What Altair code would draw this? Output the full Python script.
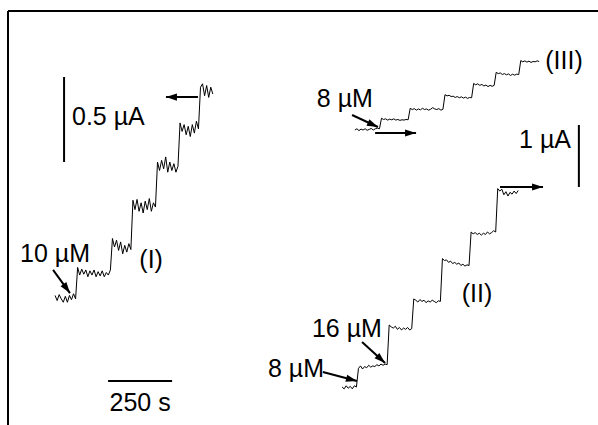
import math

import altair as alt
import pandas as pd

# ---------------------------------------------------------------------------
# Amperometric current-time recordings (successive substrate additions).
# Each trace is sampled every DT seconds; currents are in µA relative to the
# trace's own starting baseline.
# ---------------------------------------------------------------------------
DT = 8  # s between samples

trace_I = [
    # baseline
    0.015, -0.015, 0.020, -0.005, -0.025, 0.010, -0.025, 0.015, -0.010, 0.025, -0.005,
    # + 10 µM
    0.180, 0.135, 0.170, 0.140, 0.165, 0.125, 0.160, 0.135, 0.165, 0.125, 0.155,
    0.130, 0.160, 0.125, 0.150, 0.135, 0.165,
    0.350, 0.300, 0.340, 0.280, 0.330, 0.260, 0.310, 0.270, 0.320, 0.285,
    0.575, 0.520, 0.580, 0.510, 0.560, 0.500, 0.570, 0.520, 0.585, 0.510, 0.560, 0.535,
    0.800, 0.750, 0.810, 0.760, 0.830, 0.740, 0.800, 0.750, 0.790, 0.740, 0.775,
    1.030, 0.980, 1.020, 0.960, 1.010, 0.950, 1.020, 0.970, 1.040, 0.995,
    1.240, 1.260, 1.190, 1.250, 1.180, 1.240, 1.200,
]

trace_II = [
    0.000, -0.030, 0.020, -0.020, 0.010, -0.030, 0.020, 0.000,
    # + 8 µM
    0.300, 0.340, 0.290, 0.330, 0.310, 0.350, 0.320, 0.340, 0.330, 0.360, 0.340,
    0.370, 0.350, 0.370, 0.360,
    # + 16 µM
    1.000, 0.970, 0.950, 0.980, 0.930, 0.960, 0.920, 0.950, 0.930, 0.960, 0.920, 0.940,
    1.420, 1.400, 1.370, 1.410, 1.380, 1.400, 1.360, 1.390, 1.370, 1.400, 1.380,
    1.360, 1.390, 1.380,
    2.070, 2.040, 2.050, 2.010, 2.030, 1.990, 2.010, 1.980, 2.000, 1.960, 1.980,
    1.950, 1.970, 1.960,
    2.500, 2.470, 2.490, 2.460, 2.480, 2.450, 2.480, 2.460, 2.500, 2.470, 2.490,
    2.520, 2.500,
    3.200, 3.160, 3.190, 3.100, 3.150, 3.080, 3.140, 3.110, 3.160, 3.120, 3.170,
]

trace_III = [
    0.000, 0.020, -0.010, 0.015, 0.000, 0.020, -0.005, 0.010, 0.025, 0.000, 0.020,
    0.030, 0.020,
    # + 8 µM
    0.190, 0.170, 0.180, 0.160, 0.175, 0.165, 0.180, 0.160, 0.170, 0.155, 0.165,
    0.160, 0.170, 0.165,
    0.350, 0.330, 0.345, 0.320, 0.340, 0.325, 0.350, 0.330, 0.340, 0.320, 0.335,
    0.360, 0.340, 0.330, 0.345, 0.320, 0.335,
    0.570, 0.550, 0.560, 0.540, 0.545, 0.525, 0.540, 0.520, 0.535, 0.515, 0.530,
    0.510, 0.525, 0.520,
    0.750, 0.730, 0.745, 0.720, 0.735, 0.710, 0.725, 0.700, 0.720, 0.705, 0.720,
    0.930, 0.910, 0.920, 0.895, 0.910, 0.890, 0.905, 0.880, 0.900, 0.885, 0.900, 0.895,
    1.120, 1.100, 1.115, 1.095, 1.110, 1.090, 1.105, 1.100, 1.115, 1.105,
]

# start time (s) and vertical offset (µA) of each recording in the composite
trace_start = {"I": 184, "II": 1305, "III": 1355}
trace_offset = {"I": 0.747, "II": 0.613, "III": 4.758}

# scale bars: (t, i) -> (t2, i2)
bar_time = {"t": 391, "t2": 641, "i": 0.259, "i2": 0.259}          # 250 s
bar_half_ua = {"t": 219, "t2": 219, "i": 2.047, "i2": 1.547}      # 0.5 µA (trace I)
bar_one_ua = {"t": 2230, "t2": 2230, "i": 4.839, "i2": 3.839}     # 1 µA (traces II, III)

# annotation arrows (tail -> head)
arrow_I_tail_t = [742, 176]
arrow_I_tail_i = [1.929, 0.912]
arrow_I_head_t = [617, 242]
arrow_I_head_i = [1.929, 0.776]

arrow_II_tail_t = [1344, 1434, 1922, 1383, 1230]
arrow_II_tail_i = [5.000, 4.710, 3.839, 1.339, 0.855]
arrow_II_head_t = [1445, 1594, 2090, 1473, 1363]
arrow_II_head_i = [4.806, 4.710, 3.839, 1.000, 0.710]

# labels
labels_I = ["10 µM", "(I)", "250 s"]
labels_I_t = [184, 559, 516]
labels_I_i = [0.959, 0.924, 0.082]
label_half_ua = "0.5 µA"
label_half_ua_t = 250
label_half_ua_i = 1.765

labels_II = ["8 µM", "(III)", "1 µA", "(II)", "16 µM", "8 µM"]
labels_II_t = [1316, 2172, 2098, 1832, 1324, 1125]
labels_II_i = [5.129, 5.750, 4.468, 1.984, 1.419, 0.774]

# ---------------------------------------------------------------------------
# Geometry of the panel
# ---------------------------------------------------------------------------
W, H = 590, 414
PX_PER_S = 64 / 250
PX_PER_UA_I = 170
PX_PER_UA_II = 62
X_MAX = W / PX_PER_S
Y_I_MAX = H / PX_PER_UA_I
Y_II_MAX = H / PX_PER_UA_II

FONT = "Liberation Sans"
FONT_SIZE = 25
HEAD = "M0,0L-2,-0.65L-2,0.65Z"

x_scale = alt.Scale(domain=[0, X_MAX], nice=False, zero=False)
y_I_scale = alt.Scale(domain=[0, Y_I_MAX], nice=False, zero=False)
y_II_scale = alt.Scale(domain=[0, Y_II_MAX], nice=False, zero=False)


def X(field):
    return alt.X(field, type="quantitative", scale=x_scale, axis=None)


def Y(field, scale):
    return alt.Y(field, type="quantitative", scale=scale, axis=None)


def trace_frame(name, values):
    t0, off = trace_start[name], trace_offset[name]
    return pd.DataFrame({
        "trace": name,
        "t": [t0 + DT * k for k in range(len(values))],
        "i": [off + v for v in values],
    })


def head_angle(t0, i0, t1, i1, px_per_ua):
    dx = (t1 - t0) * PX_PER_S
    dy = -(i1 - i0) * px_per_ua
    return math.degrees(math.atan2(dy, dx)) % 360


def arrow_frames(tt, ti, ht, hi, px_per_ua):
    shafts = pd.DataFrame({"t": tt, "i": ti, "t2": ht, "i2": hi})
    heads = pd.DataFrame({
        "t": ht,
        "i": hi,
        "angle": [head_angle(a, b, c, d, px_per_ua) for a, b, c, d in zip(tt, ti, ht, hi)],
    })
    return shafts, heads


df_I = trace_frame("I", trace_I)
df_II = pd.concat([trace_frame("II", trace_II), trace_frame("III", trace_III)])

shafts_I, heads_I = arrow_frames(arrow_I_tail_t, arrow_I_tail_i,
                                 arrow_I_head_t, arrow_I_head_i, PX_PER_UA_I)
shafts_II, heads_II = arrow_frames(arrow_II_tail_t, arrow_II_tail_i,
                                   arrow_II_head_t, arrow_II_head_i, PX_PER_UA_II)

bars_I = pd.DataFrame([bar_time, bar_half_ua])
bars_II = pd.DataFrame([bar_one_ua])

text_I = pd.DataFrame({"label": labels_I, "t": labels_I_t, "i": labels_I_i})
text_half = pd.DataFrame({"label": [label_half_ua], "t": [label_half_ua_t],
                          "i": [label_half_ua_i]})
text_II = pd.DataFrame({"label": labels_II, "t": labels_II_t, "i": labels_II_i})

# ---------------------------------------------------------------------------
# Layers
# ---------------------------------------------------------------------------
frame_left = alt.Chart(pd.DataFrame({"t": [0]})).mark_rule(
    color="black", strokeWidth=2
).encode(x=X("t"))

frame_top = alt.Chart(pd.DataFrame({"i": [Y_I_MAX]})).mark_rule(
    color="black", strokeWidth=2
).encode(y=Y("i", y_I_scale))

line_I = alt.Chart(df_I).mark_line(color="black", strokeWidth=1).encode(
    x=X("t"), y=Y("i", y_I_scale)
)

line_II = alt.Chart(df_II).mark_line(color="black", strokeWidth=1).encode(
    x=X("t"), y=Y("i", y_II_scale), detail="trace:N"
)


def rules(df, scale, width=2):
    return alt.Chart(df).mark_rule(color="black", strokeWidth=width, strokeCap="butt").encode(
        x=X("t"), x2="t2", y=Y("i", scale), y2="i2"
    )


def heads(df, scale):
    return alt.Chart(df).mark_point(
        shape=HEAD, filled=True, size=121, color="black", opacity=1, strokeWidth=0
    ).encode(x=X("t"), y=Y("i", scale), angle=alt.Angle("angle:Q", scale=None))


def texts(df, scale, align="center"):
    return alt.Chart(df).mark_text(
        font=FONT, fontSize=FONT_SIZE, color="black", align=align, baseline="alphabetic"
    ).encode(x=X("t"), y=Y("i", scale), text="label:N")


chart = alt.layer(
    frame_left,
    frame_top,
    line_I,
    line_II,
    rules(bars_I, y_I_scale),
    rules(bars_II, y_II_scale),
    rules(shafts_I, y_I_scale),
    heads(heads_I, y_I_scale),
    rules(shafts_II, y_II_scale),
    heads(heads_II, y_II_scale),
    texts(text_I, y_I_scale),
    texts(text_half, y_I_scale, align="left"),
    texts(text_II, y_II_scale),
).resolve_scale(
    y="independent"
).properties(
    width=W,
    height=H,
    padding={"left": 8, "top": 11, "right": 0, "bottom": 0},
    autosize=alt.AutoSizeParams(type="none"),
    background="white",
).configure_view(
    stroke=None
)

chart.save("out.html", embed_options={"renderer": "svg", "actions": False})
